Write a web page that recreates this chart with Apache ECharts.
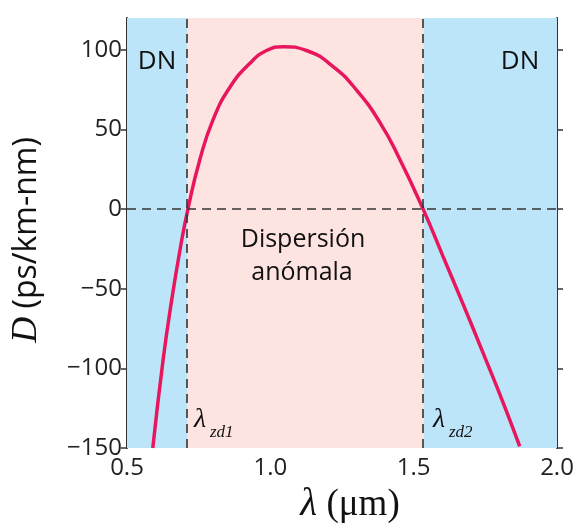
<!DOCTYPE html>
<html>
<head>
<meta charset="utf-8">
<script src="https://cdn.jsdelivr.net/npm/echarts@6/dist/echarts.min.js"></script>
<style>html,body{margin:0;padding:0;background:#fff}#c{width:583px;height:525px}</style>
</head>
<body>
<div id="c"></div>
<script>
// wavelength (µm) and dispersion D (ps/km-nm)
const lambda = [0.59, 0.626, 0.656, 0.685, 0.7125, 0.754, 0.801, 0.859, 0.929, 0.987, 1.045, 1.126, 1.219, 1.300, 1.382, 1.451, 1.533, 1.602, 1.672, 1.741, 1.811, 1.870];
const dispersion = [-150, -94.6, -57, -25.5, 0, 31, 56.5, 76.5, 91.6, 99.6, 102, 99.6, 89.5, 74.9, 54.5, 31.5, 0, -29.5, -59.5, -89.8, -121, -149];
const zeroDispersion = [0.7115, 1.534];
const xTicks = [0.5, 1.0, 1.5, 2.0];
const yTicks = [-150, -100, -50, 0, 50, 100];
const xRange = [0.5, 2.0];
const yRange = [-150, 120];

const chart = echarts.init(document.getElementById('c'), null, {renderer: 'canvas'});
const axisColor = '#333';
const labelFont = '"Open Sans", "Noto Sans", sans-serif';
const serif = '"Liberation Serif", "DejaVu Serif", serif';

function txt(x, y, text, font, align) {
  return {type: 'text', x: x, y: y, z: 100, zlevel: 1, silent: true,
    style: {text: text, font: font, fill: '#111', textAlign: align || 'center', textVerticalAlign: 'middle'}};
}

const option = {
  animation: false,
  grid: {left: 127, right: 26, top: 18, bottom: 77},
  xAxis: [
    {
      type: 'value', min: xRange[0], max: xRange[1], interval: 0.5, position: 'bottom',
      axisLine: {lineStyle: {color: axisColor, width: 2}},
      axisTick: {show: true, inside: false, length: 6, customValues: xTicks, lineStyle: {color: axisColor, width: 1.5}},
      axisLabel: {customValues: xTicks, formatter: v => v.toFixed(1), fontSize: 24, color: '#222', fontFamily: labelFont, margin: 8},
      splitLine: {show: false}
    },
    {
      type: 'value', min: xRange[0], max: xRange[1], interval: 0.5, position: 'top',
      axisLine: {lineStyle: {color: axisColor, width: 2}},
      axisTick: {show: true, inside: false, length: 6, customValues: xTicks, lineStyle: {color: axisColor, width: 1.5}},
      axisLabel: {show: false},
      splitLine: {show: false}
    }
  ],
  yAxis: [
    {
      type: 'value', min: yRange[0], max: yRange[1], interval: 50, position: 'left',
      axisLine: {show: true, lineStyle: {color: axisColor, width: 2}},
      axisTick: {show: true, inside: false, length: 6, customValues: yTicks, lineStyle: {color: axisColor, width: 1.5}},
      axisLabel: {customValues: yTicks, formatter: v => String(v).replace('-', '\u2212'), fontSize: 24, color: '#222', fontFamily: labelFont, margin: 5},
      splitLine: {show: false}
    },
    {
      type: 'value', min: yRange[0], max: yRange[1], interval: 50, position: 'right',
      axisLine: {show: true, lineStyle: {color: axisColor, width: 2}},
      axisTick: {show: true, inside: false, length: 6, customValues: yTicks, lineStyle: {color: axisColor, width: 1.5}},
      axisLabel: {show: false},
      splitLine: {show: false}
    }
  ],
  series: [
    {
      type: 'line', data: [], silent: true, z: 1,
      markArea: {
        silent: true,
        data: [
          [{xAxis: xRange[0], yAxis: yRange[0], itemStyle: {color: '#bde5f9'}}, {xAxis: zeroDispersion[0], yAxis: yRange[1]}],
          [{xAxis: zeroDispersion[0], yAxis: yRange[0], itemStyle: {color: '#fde4e1'}}, {xAxis: zeroDispersion[1], yAxis: yRange[1]}],
          [{xAxis: zeroDispersion[1], yAxis: yRange[0], itemStyle: {color: '#bde5f9'}}, {xAxis: xRange[1], yAxis: yRange[1]}]
        ]
      }
    },
    {
      type: 'line', data: [], silent: true, z: 2,
      markLine: {
        silent: true, symbol: ['none', 'none'], label: {show: false},
        lineStyle: {color: '#333', width: 1.6, type: [9, 6]},
        data: [{xAxis: zeroDispersion[0]}, {xAxis: zeroDispersion[1]}, {yAxis: 0}]
      }
    },
    {
      type: 'line', z: 3,
      data: lambda.map((x, i) => [x, dispersion[i]]),
      smooth: 0.5, symbol: 'none', clip: true,
      lineStyle: {color: '#e8175d', width: 3.5}
    }
  ],
  graphic: [
    txt(157, 62, 'DN', '26px ' + labelFont),
    txt(520, 62, 'DN', '26px ' + labelFont),
    txt(303, 240, 'Dispersión', '25px ' + labelFont),
    txt(302, 273, 'anómala', '25px ' + labelFont),
    txt(194, 420, 'λ', 'italic 28px ' + serif, 'left'),
    txt(210, 433, 'zd1', 'italic 17px ' + serif, 'left'),
    txt(433, 420, 'λ', 'italic 28px ' + serif, 'left'),
    txt(449, 433, 'zd2', 'italic 17px ' + serif, 'left'),
    {type: 'text', x: 350, y: 505, z: 100, zlevel: 1, silent: true, style: {
      text: '{i|λ} (μm)', font: '37px ' + serif, fill: '#111', textAlign: 'center', textVerticalAlign: 'middle',
      rich: {i: {fontStyle: 'italic', fontSize: 39, fontFamily: serif, fill: '#111'}}
    }},
    {type: 'text', x: 27, y: 240, rotation: Math.PI / 2, z: 100, zlevel: 1, silent: true, style: {
      text: '{i|D} (ps/km-nm)', font: '32px ' + labelFont, fill: '#111', textAlign: 'center', textVerticalAlign: 'middle',
      rich: {i: {fontStyle: 'italic', fontSize: 36, fontFamily: serif, fill: '#111'}}
    }}
  ]
};
chart.setOption(option);
</script>
</body>
</html>
